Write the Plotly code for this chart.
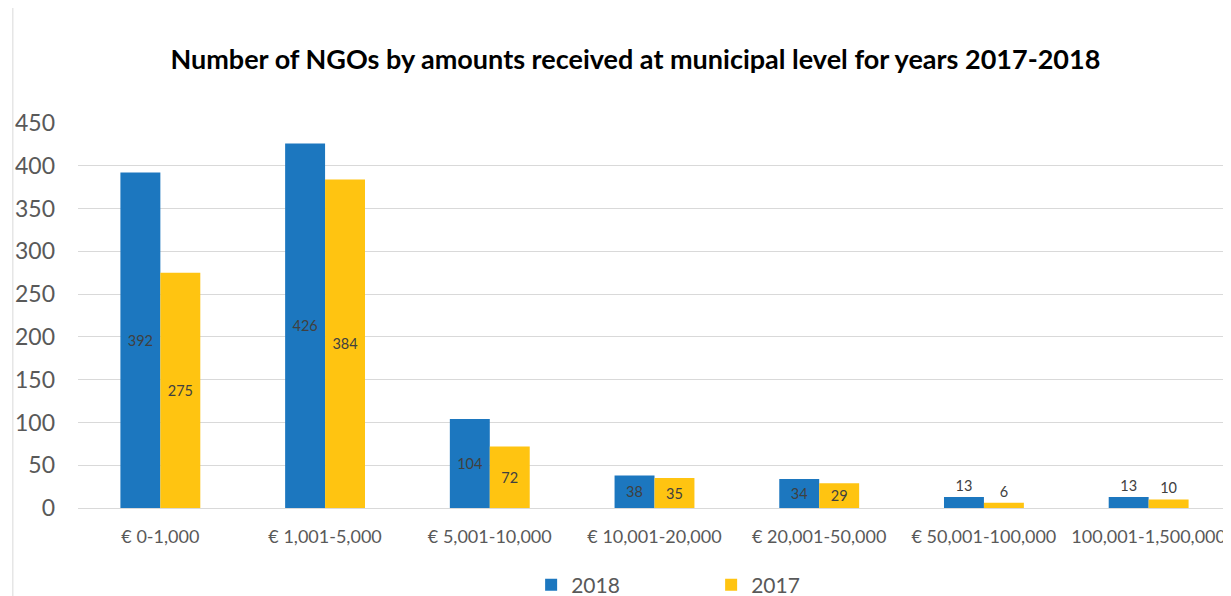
import plotly.graph_objects as go

# Data
categories = ['€ 0-1,000', '€ 1,001-5,000', '€ 5,001-10,000', '€ 10,001-20,000',
              '€ 20,001-50,000', '€ 50,001-100,000', '100,001-1,500,000']
values_2018 = [392, 426, 104, 38, 34, 13, 13]
values_2017 = [275, 384, 72, 35, 29, 6, 10]
y_ticks = [0, 50, 100, 150, 200, 250, 300, 350, 400, 450]

BLUE = '#1C77BF'
GOLD = '#FFC411'
FONT = 'Lato, Open Sans, sans-serif'


def label_pos(vals):
    # small bars get their label above the bar, like in the original
    return ['inside' if v > 20 else 'outside' for v in vals]


fig = go.Figure()

fig.add_trace(go.Bar(
    x=categories, y=values_2018, name='2018',
    marker=dict(color=BLUE, line=dict(width=0)),
    text=values_2018, textposition=label_pos(values_2018),
    insidetextanchor='middle', constraintext='none',
    textfont=dict(size=14.5, color='#404040', family=FONT),
    cliponaxis=False,
))
fig.add_trace(go.Bar(
    x=categories, y=values_2017, name='2017',
    marker=dict(color=GOLD, line=dict(width=0)),
    text=values_2017, textposition=label_pos(values_2017),
    insidetextanchor='middle', constraintext='none',
    textfont=dict(size=14.5, color='#404040', family=FONT),
    cliponaxis=False,
))

# page body adds an 8px margin, so the figure is sized 8px smaller
fig.update_layout(
    width=1223, height=588,
    margin=dict(l=70, r=0, t=115, b=88, autoexpand=False),
    plot_bgcolor='white', paper_bgcolor='white',
    barmode='group', bargap=0.515, bargroupgap=0,
    title=dict(
        text='<b>Number of NGOs by amounts received at municipal level for years 2017-2018</b>',
        font=dict(size=27, family=FONT, color='#000000'),
        x=0.513, xanchor='center', y=0.912, yanchor='middle',
    ),
    xaxis=dict(
        showgrid=False, showline=True, linecolor='#D9D9D9', linewidth=1,
        ticks='', ticklabelstandoff=12, automargin=False,
        tickfont=dict(size=18, family=FONT, color='#595959'),
    ),
    yaxis=dict(
        range=[0, 450], tickvals=y_ticks, automargin=False,
        showgrid=True, gridcolor='#D9D9D9', gridwidth=1,
        zeroline=False, showline=False, ticks='', ticklabelstandoff=22,
        tickfont=dict(size=23, family=FONT, color='#595959'),
    ),
    legend=dict(
        orientation='h', x=0.393, xanchor='left', y=-0.2, yanchor='middle',
        font=dict(size=21, family=FONT, color='#595959'),
        entrywidth=135, entrywidthmode='pixels',
        itemsizing='constant', traceorder='normal',
    ),
    showlegend=True,
    shapes=[dict(type='line', xref='paper', yref='paper',
                 x0=-0.0565, x1=-0.0565, y0=-0.3, y1=1.32,
                 line=dict(color='#D9D9D9', width=1))],
)

fig.write_html('out.html')
